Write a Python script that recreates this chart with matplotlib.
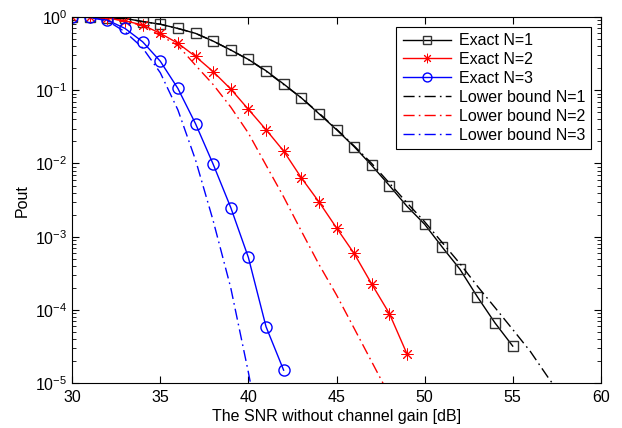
import matplotlib
matplotlib.use("Agg")
import matplotlib.pyplot as plt
from matplotlib.ticker import LogLocator, NullFormatter, MultipleLocator

plt.rcParams['font.family'] = ['Liberation Sans', 'DejaVu Sans']
plt.rcParams['mathtext.fontset'] = 'custom'
plt.rcParams['mathtext.rm'] = 'Liberation Sans'

# SNR grid (dB)
snr_n1 = list(range(30, 56))
snr_n2 = list(range(30, 50))
snr_n3 = list(range(30, 43))
snr_lb1 = list(range(30, 59))
snr_lb2 = list(range(30, 49))
snr_lb3 = list(range(30, 42))

# Outage probability, exact
exact_n1 = [1.0, 0.995, 0.98, 0.96, 0.87, 0.80, 0.70, 0.60, 0.47, 0.355,
            0.264, 0.185, 0.122, 0.079, 0.048, 0.029, 0.017, 0.0094, 0.0050,
            0.0026, 1.48e-3, 7.2e-4, 3.6e-4, 1.5e-4, 6.6e-5, 3.2e-5]
exact_n2 = [1.0, 0.995, 0.97, 0.89, 0.78, 0.60, 0.44, 0.29, 0.18, 0.104,
            0.055, 0.029, 0.0148, 0.0064, 0.0030, 1.32e-3, 5.9e-4, 2.25e-4,
            8.9e-5, 2.5e-5]
exact_n3 = [1.0, 0.99, 0.91, 0.70, 0.46, 0.25, 0.106, 0.035, 0.0098, 0.0025,
            5.2e-4, 5.9e-5, 1.5e-5]

# Outage probability, lower bound
lower_n1 = [1.0, 0.993, 0.973, 0.955, 0.87, 0.80, 0.70, 0.60, 0.47, 0.355,
            0.263, 0.182, 0.12, 0.079, 0.049, 0.0295, 0.0174, 0.010, 0.0054,
            0.0029, 1.6e-3, 8.3e-4, 4.3e-4, 2.1e-4, 1.07e-4, 5.4e-5, 2.7e-5,
            1.2e-5, 5.6e-6]
lower_n2 = [1.0, 0.99, 0.965, 0.89, 0.76, 0.56, 0.41, 0.22, 0.12, 0.059,
            0.026, 0.0095, 3.5e-3, 1.2e-3, 4.2e-4, 1.6e-4, 5.6e-5, 1.95e-5,
            6.8e-6]
lower_n3 = [1.0, 0.99, 0.89, 0.63, 0.38, 0.174, 0.054, 0.0112, 1.66e-3,
            2.0e-4, 1.4e-5, 8e-7]

fig = plt.figure(figsize=(6.22, 4.28), dpi=100)
ax = fig.add_axes([0.116, 0.105, 0.850, 0.855])

dashdot = (0, (8, 3, 1.2, 3))
lw = 1.0
asterisk = (8, 2, 0)
ax.plot(snr_n1, exact_n1, '-', color='black', lw=lw, marker='s', ms=7.5,
        mfc='none', mec='#333333', mew=1.0, label='Exact N=1')
ax.plot(snr_n2, exact_n2, '-', color='red', lw=lw, marker=asterisk, ms=8.5,
        mfc='red', mec='red', mew=0.7, label='Exact N=2')
ax.plot(snr_n3, exact_n3, '-', color='blue', lw=lw, marker='o', ms=8,
        mfc='none', mec='blue', mew=1.0, label='Exact N=3')
ax.plot(snr_lb1, lower_n1, color='black', lw=lw, linestyle=dashdot,
        label='Lower bound N=1')
ax.plot(snr_lb2, lower_n2, color='red', lw=lw, linestyle=dashdot,
        label='Lower bound N=2')
ax.plot(snr_lb3, lower_n3, color='blue', lw=lw, linestyle=dashdot,
        label='Lower bound N=3')

ax.set_yscale('log')
ax.set_xlim(30, 60)
ax.set_ylim(1e-5, 1)
ax.xaxis.set_major_locator(MultipleLocator(5))
ax.yaxis.set_major_locator(LogLocator(base=10, numticks=10))
ax.yaxis.set_minor_locator(LogLocator(base=10, subs=range(2, 10), numticks=10))
ax.yaxis.set_minor_formatter(NullFormatter())

ax.tick_params(which='both', direction='in', top=True, right=True,
               labelsize=11.5, color='black')
ax.tick_params(which='major', length=5, width=0.8)
ax.tick_params(which='minor', length=3, width=0.6)
ax.tick_params(axis='x', pad=5)
for s in ax.spines.values():
    s.set_linewidth(0.8)

ax.set_xlabel('The SNR without channel gain [dB]', fontsize=11.5, labelpad=3)
ax.set_ylabel('Pout', fontsize=11.5, labelpad=4)

leg = ax.legend(loc='upper right', fontsize=11.5, handlelength=3.0,
                fancybox=False, framealpha=1, edgecolor='black',
                borderaxespad=0.6, labelspacing=0.25, handletextpad=0.5,
                borderpad=0.4, markerscale=0.8)
leg.get_frame().set_linewidth(0.8)

fig.savefig('out.png', dpi=100)
